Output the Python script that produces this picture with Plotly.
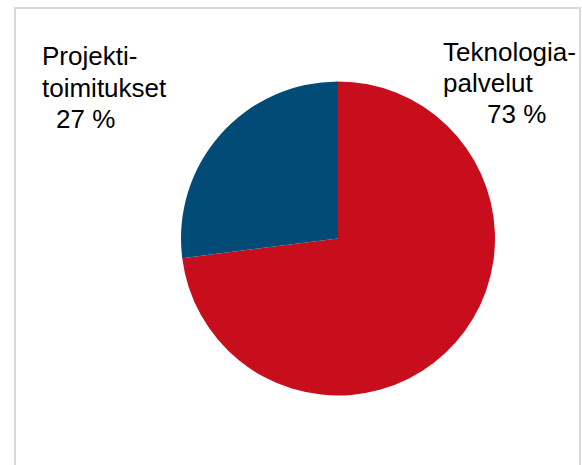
import plotly.graph_objects as go

labels = ["Teknologiapalvelut", "Projektitoimitukset"]
values = [73, 27]
colors = ["#C80E1C", "#034B77"]

left_lines = ["Projekti-", "toimitukset", "27 %"]
right_lines = ["Teknologia-", "palvelut", "73 %"]

W, H = 582, 465
fs = 26

def px(x):
    return x / W

def py(y):
    return 1 - y / H

fig = go.Figure(go.Pie(
    labels=labels, values=values, sort=False, direction="clockwise", rotation=0,
    marker=dict(colors=colors, line=dict(width=0)),
    textinfo="none", hoverinfo="label+percent", showlegend=False,
    domain=dict(x=[px(338 - 157), px(338 + 157)], y=[py(395.5), py(81.5)]),
))

ann = []
left_pos = [(41, 65), (41, 97), (55, 128)]
right_pos = [(442, 61), (442, 92), (486, 123)]
for txt, (x, b) in zip(left_lines + right_lines, left_pos + right_pos):
    ann.append(dict(text=txt, x=px(x), y=py(b + 3 - 0.455 * fs), xref="paper", yref="paper",
                    xanchor="left", yanchor="middle", showarrow=False,
                    font=dict(family="Liberation Sans, Arial, sans-serif", size=fs, color="#000000"),
                    xshift=-1))

fig.update_layout(
    width=W, height=H, margin=dict(l=0, r=0, t=0, b=0),
    paper_bgcolor="white", plot_bgcolor="white",
    annotations=ann,
    shapes=[dict(type="rect", xref="paper", yref="paper",
                 x0=px(15), x1=px(580), y0=py(520), y1=py(8),
                 line=dict(color="#D9D9D9", width=2), fillcolor="rgba(0,0,0,0)", layer="below")],
)

fig.write_html("out.html", config={"displayModeBar": False},
               post_script="document.body.style.margin='0px';document.body.style.overflow='hidden';")
